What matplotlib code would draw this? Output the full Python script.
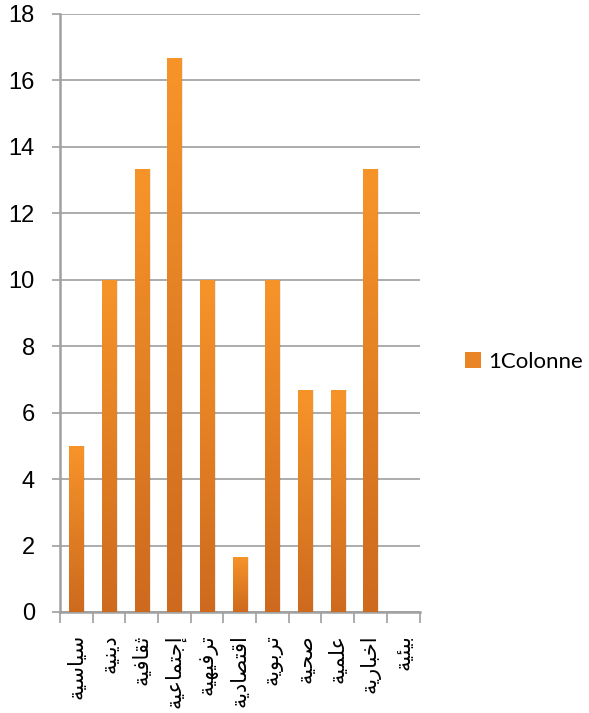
import numpy as np
import matplotlib
matplotlib.use("Agg")
import matplotlib.pyplot as plt
from matplotlib.colors import LinearSegmentedColormap
from matplotlib.patches import Patch

# Survey categories (Arabic) and their percentages
categories = ["سياسية", "دينية", "ثقافية", "إجتماعية", "ترفيهية", "اقتصادية",
              "تربوية", "صحية", "علمية", "اخبارية", "بيئية"]
values = [5.0, 10.0, 13.33, 16.67, 10.0, 1.67, 10.0, 6.67, 6.67, 13.33, 0.0]
series_name = "1Colonne"
y_ticks = [0, 2, 4, 6, 8, 10, 12, 14, 16, 18]

# --- minimal Arabic shaping (presentation forms + visual order) ---
DUAL = {
    "ب": 0xFE8F, "ت": 0xFE95, "ث": 0xFE99, "ج": 0xFE9D, "ح": 0xFEA1,
    "خ": 0xFEA5, "س": 0xFEB1, "ش": 0xFEB5, "ص": 0xFEB9, "ض": 0xFEBD,
    "ط": 0xFEC1, "ظ": 0xFEC5, "ع": 0xFEC9, "غ": 0xFECD, "ف": 0xFED1,
    "ق": 0xFED5, "ك": 0xFED9, "ل": 0xFEDD, "م": 0xFEE1, "ن": 0xFEE5,
    "ه": 0xFEE9, "ي": 0xFEF1, "ئ": 0xFE89,
}
RIGHT = {
    "ا": 0xFE8D, "إ": 0xFE87, "أ": 0xFE83, "د": 0xFEA9, "ذ": 0xFEAB,
    "ر": 0xFEAD, "ز": 0xFEAF, "و": 0xFEED, "ة": 0xFE93, "ى": 0xFEEF,
}


def shape(word):
    out = []
    n = len(word)
    for i, ch in enumerate(word):
        prev_joins = i > 0 and word[i - 1] in DUAL
        next_joins = ch in DUAL and i < n - 1 and (word[i + 1] in DUAL or word[i + 1] in RIGHT)
        if ch in DUAL:
            base = DUAL[ch]
            if prev_joins and next_joins:
                code = base + 3
            elif prev_joins:
                code = base + 1
            elif next_joins:
                code = base + 2
            else:
                code = base
        elif ch in RIGHT:
            code = RIGHT[ch] + (1 if prev_joins else 0)
        else:
            out.append(ch)
            continue
        out.append(chr(code))
    return "".join(reversed(out))


labels = [shape(c) for c in categories]

plt.rcParams["font.family"] = ["Liberation Sans", "DejaVu Sans"]

fig = plt.figure(figsize=(5.89, 7.13), dpi=100)
ax = fig.add_axes([60 / 589, 101 / 713, 359.5 / 589, 598 / 713])

x = np.arange(len(categories))
grid_col = "#A6A6A6"

ax.set_ylim(0, 18)
ax.set_xlim(-0.5, len(categories) - 0.5)
ax.set_yticks(y_ticks)
ax.set_yticklabels([str(t) for t in y_ticks], fontsize=17)
ax.yaxis.grid(True, color=grid_col, linewidth=1.3)
ax.set_axisbelow(True)

for side in ("top", "right"):
    ax.spines[side].set_visible(False)
for side in ("left", "bottom"):
    ax.spines[side].set_color("#A0A0A0")
    ax.spines[side].set_linewidth(1.8)

ax.tick_params(axis="y", length=6, width=1.3, color=grid_col, pad=12)
ax.tick_params(axis="x", length=8, width=1.3, color=grid_col, pad=14)
ax.set_xticks(np.arange(len(categories) + 1) - 0.5, minor=False)
ax.set_xticklabels([])
ax.set_xticks(x, minor=True)
ax.set_xticklabels(labels, minor=True, rotation=90, va="top", ha="center",
                   fontsize=15, family="DejaVu Sans")
ax.tick_params(axis="x", which="minor", length=0, pad=16)

# Bars with a vertical orange gradient and a soft shadow
bar_w = 0.43
cmap = LinearSegmentedColormap.from_list("orange_grad", ["#CD6A1E", "#F79429"])
grad = np.linspace(0, 1, 256).reshape(-1, 1)

shadow = ax.bar(x + 0.06, values, width=bar_w, color="#000000", alpha=0.08,
                zorder=2, linewidth=0)
bars = ax.bar(x, values, width=bar_w, color="#E98526", zorder=3, linewidth=0)
for b, v in zip(bars, values):
    if v <= 0:
        continue
    x0 = b.get_x()
    im = ax.imshow(grad, cmap=cmap, origin="lower", aspect="auto",
                   extent=(x0, x0 + bar_w, 0, v), zorder=4,
                   interpolation="bilinear")
    im.set_clip_path(b)
ax.set_xlim(-0.5, len(categories) - 0.5)
ax.set_ylim(0, 18)

handle = Patch(facecolor="#E98526", edgecolor="none")
fig.legend([handle], [series_name], loc="center left",
           bbox_to_anchor=(445 / 589, (713 - 362) / 713),
           frameon=False, handlelength=0.7, handleheight=0.7,
           handletextpad=0.35, prop={"family": "Lato", "size": 16})

fig.savefig("out.png", dpi=100)
